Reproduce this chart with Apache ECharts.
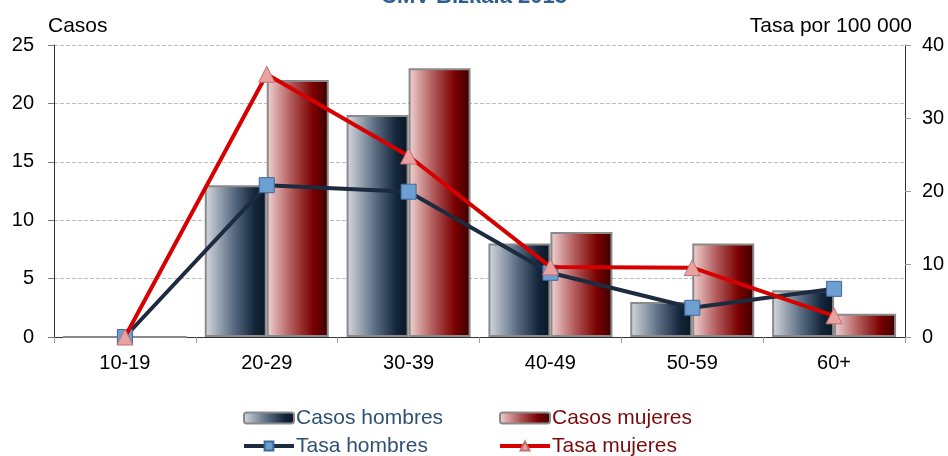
<!DOCTYPE html>
<html>
<head>
<meta charset="utf-8">
<script src="https://cdn.jsdelivr.net/npm/echarts@6/dist/echarts.min.js"></script>
<style>
 html, body { margin: 0; padding: 0; background: #fff; }
 #chart { width: 948px; height: 456px; }
</style>
</head>
<body>
<div id="chart"></div>
<script>
const categories = ['10-19', '20-29', '30-39', '40-49', '50-59', '60+']
const casosHombres = [0, 13, 19, 8, 3, 4]
const casosMujeres = [0, 22, 23, 9, 8, 2]
const tasaHombres = [0, 20.8, 19.9, 8.8, 4.0, 6.6]
const tasaMujeres = [0, 36.0, 24.8, 9.6, 9.5, 2.9]

const font = 'Liberation Sans, Arial, sans-serif'

const menGrad = new echarts.graphic.LinearGradient(0, 0, 1, 0, [
 { offset: 0, color: '#d6dadf' },
 { offset: 0.45, color: '#5d6f84' },
 { offset: 0.8, color: '#14263b' },
 { offset: 1, color: '#0a1522' }
])
const womenGrad = new echarts.graphic.LinearGradient(0, 0, 1, 0, [
 { offset: 0, color: '#f2d4d4' },
 { offset: 0.4, color: '#b05858' },
 { offset: 0.75, color: '#7a0000' },
 { offset: 1, color: '#3a0000' }
])

// two legend columns, one per sex
const legendCommon = {
 orient: 'vertical',
 top: 402,
 height: 54,
 itemWidth: 50,
 itemHeight: 11,
 itemGap: 6,
 lineStyle: { width: 4 },
 textStyle: { fontFamily: font, fontSize: 21, lineHeight: 22, padding: [0, 0, 0, -3] }
}

const chart = echarts.init(document.getElementById('chart'))
chart.setOption({
 animation: false,
 title: {
  text: 'CMV Bizkaia 2013',
  left: 'center',
  top: -19,
  textStyle: { fontFamily: font, fontSize: 22, fontWeight: 'bold', color: '#2f5f8f' }
 },
 grid: { left: 54, right: 43, top: 45, bottom: 119 },
 legend: [
  Object.assign({}, legendCommon, {
   left: 237,
   data: [
    { name: 'Casos hombres', textStyle: { color: '#2f5075' } },
    { name: 'Tasa hombres', textStyle: { color: '#2f5075' } }
   ]
  }),
  Object.assign({}, legendCommon, {
   left: 493,
   data: [
    { name: 'Casos mujeres', textStyle: { color: '#7a0a0a' } },
    { name: 'Tasa mujeres', textStyle: { color: '#7a0a0a' } }
   ]
  })
 ],
 xAxis: {
  type: 'category',
  data: categories,
  axisLine: { lineStyle: { color: '#333', width: 1 } },
  axisTick: { show: true, length: 6, lineStyle: { color: '#999' } },
  axisLabel: { fontFamily: font, fontSize: 20, color: '#000', margin: 16 }
 },
 yAxis: [
  {
   type: 'value',
   min: 0,
   max: 25,
   interval: 5,
   name: 'Casos',
   nameLocation: 'end',
   nameGap: 8,
   nameTextStyle: { fontFamily: font, fontSize: 21, color: '#000', align: 'left', padding: [0, 0, 0, -6] },
   axisLine: { show: true, lineStyle: { color: '#333' } },
   axisTick: { show: true, length: 6, lineStyle: { color: '#777' } },
   axisLabel: { fontFamily: font, fontSize: 20, color: '#000', margin: 20 },
   splitLine: { show: true, lineStyle: { type: 'dashed', color: '#bbb' } }
  },
  {
   type: 'value',
   min: 0,
   max: 40,
   interval: 10,
   name: 'Tasa por 100 000',
   nameLocation: 'end',
   nameGap: 8,
   nameTextStyle: { fontFamily: font, fontSize: 21, color: '#000', align: 'right', padding: [0, -7, 0, 0] },
   axisLine: { show: true, lineStyle: { color: '#333' } },
   axisTick: { show: true, length: 6, lineStyle: { color: '#999' } },
   axisLabel: { fontFamily: font, fontSize: 20, color: '#000', margin: 17 },
   splitLine: { show: false }
  }
 ],
 series: [
  {
   name: 'Casos hombres',
   type: 'bar',
   yAxisIndex: 0,
   barWidth: 62,
   barGap: '0%',
   itemStyle: { color: menGrad, borderColor: '#8a8a8a', borderWidth: 2 },
   data: casosHombres
  },
  {
   name: 'Casos mujeres',
   type: 'bar',
   yAxisIndex: 0,
   barWidth: 62,
   barGap: '0%',
   itemStyle: { color: womenGrad, borderColor: '#8a8a8a', borderWidth: 2 },
   data: casosMujeres
  },
  {
   name: 'Tasa hombres',
   type: 'line',
   yAxisIndex: 1,
   symbol: 'rect',
   symbolSize: 15,
   showAllSymbol: true,
   lineStyle: { color: '#1c2b3f', width: 4 },
   itemStyle: { color: '#6e9fd2', borderColor: '#3d6a98', borderWidth: 1 },
   z: 5,
   data: tasaHombres
  },
  {
   name: 'Tasa mujeres',
   type: 'line',
   yAxisIndex: 1,
   symbol: 'triangle',
   symbolSize: 16,
   showAllSymbol: true,
   lineStyle: { color: '#d60000', width: 4 },
   itemStyle: { color: '#e9a2a2', borderColor: '#c07070', borderWidth: 1 },
   z: 6,
   data: tasaMujeres
  }
 ]
})
</script>
</body>
</html>
